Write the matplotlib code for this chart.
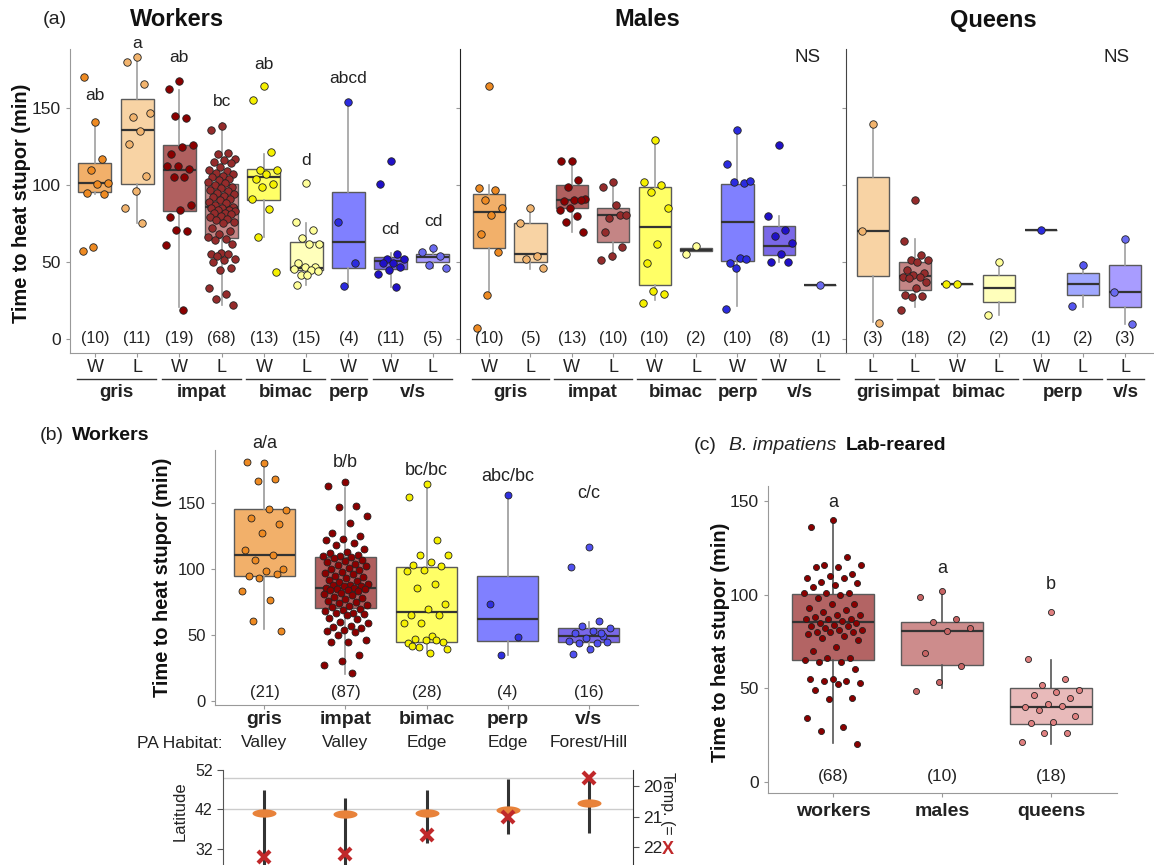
import numpy as np
import matplotlib.pyplot as plt
from matplotlib.path import Path
from matplotlib.transforms import blended_transform_factory as blend

plt.rcParams['font.family'] = ['Liberation Sans', 'DejaVu Sans']

W, H = 1154, 865

# ---------------- (a) field-collected, by caste ----------------
workers_sp = ['gris', 'gris', 'impat', 'impat', 'bimac', 'bimac', 'perp', 'v/s', 'v/s']
workers_hab = ['W', 'L', 'W', 'L', 'W', 'L', 'W', 'W', 'L']
workers_n = [10, 11, 19, 68, 13, 15, 4, 11, 5]
workers_letters = ['ab', 'a', 'ab', 'bc', 'ab', 'd', 'abcd', 'cd', 'cd']
# lower whisker, q1, median, q3, upper whisker
workers_box = [(94, 95.5, 101, 114, 140), (75, 100.6, 135.7, 155.8, 182.5),
               (21, 83, 110, 125.8, 162), (22, 65.4, 85.7, 100.6, 140),
               (66, 90, 105.4, 110.4, 120.3), (35.3, 45, 46, 63, 75.3),
               (34, 46.1, 63, 95.5, 154), (34, 45.5, 50.4, 53, 55.8),
               (46, 50.2, 53.5, 55.4, 60)]
workers_pts = [
    [141, 170, 117, 110, 101, 100.6, 95, 94, 60, 57],
    [183, 180, 165.6, 144, 147, 135, 126.6, 105.8, 96, 85, 75.5],
    [167.7, 162.3, 143.5, 144.6, 125.8, 124.9, 120, 110.4, 112.6, 112.6, 105, 105,
     87, 84, 79.2, 70, 71, 61.3, 19],
    [138, 136, 121, 120, 117, 116, 115, 114, 112, 110, 109, 108, 107, 106, 105, 104,
     103, 102, 101, 100, 99, 98, 97, 96, 95, 94, 93, 92, 91, 90, 89, 88, 87, 86, 85,
     85, 84, 84, 83, 82, 82, 81, 80, 79, 78, 77, 76, 75, 72, 70, 68, 66, 65, 64, 62,
     56, 55, 55, 54, 52, 51, 50, 46, 45, 33, 29, 26, 22],
    [164, 155, 121.6, 109.7, 109.5, 107.4, 104, 100.6, 98.5, 91, 84.6, 66, 43.7],
    [101, 75.8, 71, 65.8, 61.7, 61.7, 49.6, 46.5, 46.5, 45.5, 45, 41.6, 43.9, 41.6, 35.3],
    [154, 75.8, 49.6, 34.2],
    [115.8, 100.6, 55.4, 52.2, 52, 49.4, 49.4, 46.5, 44.6, 42.4, 33.8],
    [58.9, 56.7, 54, 48.3, 46.1],
]

males_sp = ['gris', 'gris', 'impat', 'impat', 'bimac', 'bimac', 'perp', 'v/s', 'v/s']
males_hab = ['W', 'L', 'W', 'L', 'W', 'L', 'W', 'W', 'L']
males_n = [10, 5, 13, 10, 10, 2, 10, 8, 1]
males_box = [(28.8, 59.1, 82.7, 94.2, 100.2), (45.5, 50, 55.4, 75.3, 85),
             (69.5, 85, 90.3, 100.2, 115.4), (51.5, 62.8, 80.3, 85, 102),
             (25.5, 35.3, 72.7, 98.7, 129.9), (56.9, 56.9, 58, 59, 59),
             (21.2, 50.9, 75.8, 100.6, 135.3), (50, 54.3, 60.6, 73.2, 79.7),
             (35.3, 35.3, 35.3, 35.3, 35.3)]
males_pts = [
    [164.5, 98, 96.5, 90, 85, 80.7, 68.2, 56.5, 28.8, 7.1],
    [85, 75.3, 53.7, 52.2, 46.1],
    [115.4, 115.4, 103.5, 98.5, 91, 90, 89.8, 90, 85, 83.5, 80, 75.8, 69.5],
    [102, 98.5, 80.7, 78.6, 80.7, 87.2, 69.3, 59.7, 54.1, 51.3],
    [129.4, 101.7, 99.8, 95.5, 85, 61.9, 49.4, 29.4, 31, 23.6],
    [60.6, 55.2],
    [136, 113.6, 101.3, 101.7, 102.4, 52.6, 49.4, 52, 45.9, 19.7],
    [126.2, 79.7, 71, 66.7, 62.5, 55.2, 50, 50],
    [35.3],
]

queens_sp = ['gris', 'impat', 'bimac', 'bimac', 'perp', 'perp', 'v/s']
queens_hab = ['L', 'L', 'W', 'L', 'W', 'L', 'L']
queens_n = [3, 18, 2, 2, 1, 2, 3]
queens_box = [(10.8, 40.7, 70.3, 105.2, 139.8), (20.8, 31.6, 40.7, 50, 65),
              (35.9, 35.9, 35.9, 35.9, 35.9), (15.6, 24.2, 33.3, 41.6, 50.4),
              (71, 71, 71, 71, 71), (20.8, 28.4, 35.7, 42.9, 49.8),
              (10, 20.8, 30.3, 47.8, 65)]
queens_pts = [
    [139.8, 70, 10.4],
    [90, 63.4, 54.8, 51.5, 51.5, 50, 45, 43, 41.8, 40.3, 40.3, 39.6, 36.8, 33,
     28.8, 27.7, 27, 19],
    [35.9, 35.9],
    [50, 15.4],
    [71],
    [48.3, 21.2],
    [65, 30.3, 10],
]

# ---------------- (b) workers pooled ----------------
b_species = ['gris', 'impat', 'bimac', 'perp', 'v/s']
b_habitat = ['Valley', 'Valley', 'Edge', 'Edge', 'Forest/Hill']
b_n = [21, 87, 28, 4, 16]
b_letters = ['a/a', 'b/b', 'bc/bc', 'abc/bc', 'c/c']
b_box = [(54.6, 95.1, 110.3, 145.4, 180.9), (20.5, 70.8, 86, 108.8, 161.4),
         (36.2, 44.5, 67.3, 101.2, 164.7), (34.9, 45.8, 62, 95.1, 154.6),
         (36.7, 44.8, 49.6, 55.1, 59.7)]
b_pts = [
    [180, 181, 168.5, 166.7, 145, 145.7, 138.4, 134, 127, 114.8, 111, 107, 100.2,
     98.7, 95, 95.9, 93.6, 83.2, 76.7, 60.7, 53.1],
    [166, 163, 148, 147, 140, 135, 127, 125, 123, 122, 120, 118, 115, 113, 112, 111,
     110, 110, 109, 108, 107, 106, 105, 104, 103, 102, 101, 100, 99, 98, 97, 96, 95,
     94, 93, 92, 91, 90, 89, 88, 88, 87, 87, 86, 86, 85, 85, 84, 84, 83, 82, 81, 80,
     79, 78, 77, 76, 75, 74, 73, 72, 71, 70, 69, 68, 67, 67, 66, 65, 63, 62, 60, 59,
     57, 56, 55, 54, 53, 52, 50, 46, 45, 45, 35, 30, 27, 21],
    [164.2, 154.8, 121.7, 111, 110.5, 105, 103.2, 102, 99, 98.2, 88.5, 86, 73.9,
     69.8, 65, 65.5, 59, 59.4, 49.3, 47, 45, 46.3, 44.3, 46.3, 40.7, 39.7, 36.2, 42],
    [156, 73.6, 48.3, 34.9],
    [116.4, 101.4, 61, 56.9, 55.1, 53.1, 51.9, 49.3, 47.6, 45.8, 44.3, 43.8, 45,
     39.2, 35.4, 51.4],
]
lat_mean = [41.2, 40.8, 41.0, 41.8, 43.7]
lat_max = [46.9, 45.0, 46.8, 49.6, 49.6]
lat_min = [26.0, 26.0, 33.4, 35.8, 36.0]
temp_mean = [22.3, 22.22, 21.6, 21.0, 19.76]

# ---------------- (c) lab-reared B. impatiens ----------------
c_castes = ['workers', 'males', 'queens']
c_n = [68, 10, 18]
c_letters = ['a', 'a', 'b']
c_box = [(20.5, 65.2, 85.2, 100.3, 140.4), (50.3, 62.6, 80.4, 85.2, 100.4),
         (20.2, 31, 40.1, 50.1, 65.3)]
c_pts = [
    [140, 136, 120, 116, 116, 115, 115, 111, 110, 109, 109, 107, 106, 105, 104, 101,
     101, 101, 100, 98, 95, 95, 93, 92, 91, 89, 89, 88, 87, 87, 87, 86, 85, 85, 84,
     83, 83, 82, 81, 81, 80, 80, 80, 79, 78, 77, 76, 72, 70, 66, 66, 65, 64, 64, 60,
     55, 55, 54, 54, 53, 52, 49, 45, 44, 34, 29, 27, 20],
    [101.8, 98.8, 87, 85.2, 82, 80.6, 69, 61.9, 53.1, 48.7],
    [91, 65.5, 54.8, 51.7, 49, 48.2, 46.2, 44.6, 41.6, 40, 40.7, 38.5, 35.1, 31.9,
     31.6, 25.9, 25.9, 21],
]

# colours per species / habitat
box_col = {('gris', 'W'): '#F2B06A', ('gris', 'L'): '#F8D3A4',
           ('impat', 'W'): '#B0605F', ('impat', 'L'): '#C48585',
           ('bimac', 'W'): '#FFFF66', ('bimac', 'L'): '#FFFFBB',
           ('perp', 'W'): '#8080FF', ('perp', 'L'): '#A0A8FF',
           ('v/s', 'W'): '#7A68E8', ('v/s', 'L'): '#A89CFF'}
pt_col = {('gris', 'W'): '#EE8A22', ('gris', 'L'): '#F2B46E',
          ('impat', 'W'): '#8B0000', ('impat', 'L'): '#952B2B',
          ('bimac', 'W'): '#F5F000', ('bimac', 'L'): '#FFFF99',
          ('perp', 'W'): '#2B2BE0', ('perp', 'L'): '#5555F0',
          ('v/s', 'W'): '#2010C8', ('v/s', 'L'): '#6A6AF0'}
c_box_col = ['#B36464', '#CD8C8C', '#E8BABA']
c_pt_col = ['#8B0000', '#C86464', '#E08080']

TXT = '#222222'
GREY = '#999999'


def jitter(n, spread):
    if n == 1:
        return np.zeros(1)
    k = np.arange(n)
    return ((k * 0.618034 + 0.5) % 1.0 - 0.5) * 2 * spread


def draw_boxes(ax, stats, box_colors, pts, pts_colors, width, spread, s, whisk):
    bs = [dict(whislo=v[0], q1=v[1], med=v[2], q3=v[3], whishi=v[4]) for v in stats]
    pos = np.arange(len(stats))
    res = ax.bxp(bs, positions=pos, widths=width, patch_artist=True,
                 showfliers=False, showcaps=False, manage_ticks=False,
                 boxprops=dict(edgecolor='#5a5a5a', linewidth=1),
                 medianprops=dict(color='#333333', linewidth=1.6),
                 whiskerprops=dict(color=whisk, linewidth=1.2))
    for patch, c in zip(res['boxes'], box_colors):
        patch.set_facecolor(c)
    for x, vals, c in zip(pos, pts, pts_colors):
        ax.scatter(x + jitter(len(vals), spread), vals, s=s, color=c,
                   edgecolor='#222222', linewidth=0.6, zorder=3)


def fig_ax(l, t, r, b):
    return fig.add_axes([l / W, 1 - b / H, (r - l) / W, (b - t) / H])


def style(ax, left_col=GREY):
    for sp in ['top', 'right']:
        ax.spines[sp].set_visible(False)
    ax.spines['left'].set_color(left_col)
    ax.spines['bottom'].set_color(GREY)
    ax.tick_params(colors=GREY, labelcolor=TXT, length=3)


fig = plt.figure(figsize=(W / 100, H / 100), dpi=100)

# ---------- panel (a) ----------
a_panels = [
    (fig_ax(70, 49, 460, 352.7), (-0.59, 8.64), workers_sp, workers_hab, workers_n,
     workers_box, workers_pts, GREY),
    (fig_ax(460, 49, 846, 352.7), (-0.70, 8.62), males_sp, males_hab, males_n,
     males_box, males_pts, '#222222'),
    (fig_ax(846, 49, 1154, 352.7), (-0.64, 6.69), queens_sp, queens_hab, queens_n,
     queens_box, queens_pts, '#444444'),
]
for i, (ax, xl, sp, hab, n, box, pts, lcol) in enumerate(a_panels):
    keys = list(zip(sp, hab))
    draw_boxes(ax, box, [box_col[k] for k in keys], pts, [pt_col[k] for k in keys],
               0.78, 0.33, 29, '#a0a0a0')
    style(ax, lcol)
    ax.set_xlim(*xl)
    ax.set_ylim(-8.9, 188.3)
    ax.set_xticks(np.arange(len(sp)))
    ax.set_xticklabels([])
    ax.set_yticks([0, 50, 100, 150])
    if i == 0:
        ax.tick_params(axis='y', labelsize=12.5)
    else:
        ax.set_yticklabels([])
    tr = blend(ax.transData, ax.transAxes)
    for x, nn, h in zip(range(len(sp)), n, hab):
        ax.text(x, 0, f'({nn})', ha='center', va='center', fontsize=11.5, color=TXT)
        ax.text(x, -0.05, h, ha='center', va='center', fontsize=13, color=TXT,
                transform=tr)
    # species underline and label
    start = 0
    for j in range(1, len(sp) + 1):
        if j == len(sp) or sp[j] != sp[start]:
            x0, x1 = start - 0.42, j - 1 + 0.45
            ax.plot([x0, x1], [-0.087, -0.087], color='#333333', lw=1,
                    transform=tr, clip_on=False)
            ax.text((x0 + x1) / 2, -0.13, sp[start], ha='center', va='center',
                    fontsize=13.5, fontweight='bold', color=TXT, transform=tr)
            start = j

axw = a_panels[0][0]
letter_y = [158, 192, 183, 154, 178, 116, 169, 71.4, 76]
for x, (lt, y) in enumerate(zip(workers_letters, letter_y)):
    axw.text(x, y, lt, ha='center', va='center', fontsize=12.5, color=TXT)
a_panels[1][0].text(7.7, 182.5, 'NS', ha='center', va='center', fontsize=13.5, color=TXT)
a_panels[2][0].text(5.81, 182.5, 'NS', ha='center', va='center', fontsize=13.5, color=TXT)

fig.text(55 / W, 1 - 19 / H, '(a)', ha='center', va='center', fontsize=14, color=TXT)
for name, xc in [('Workers', 177), ('Males', 647), ('Queens', 993)]:
    fig.text(xc / W, 1 - 20 / H, name, ha='center', va='center', fontsize=17,
             fontweight='bold', color='#111111')
ylab = 'Time to heat stupor (min)'
fig.text(22 / W, 1 - 203 / H, ylab, rotation=90, ha='center', va='center',
         fontsize=14.4, fontweight='bold', color='#111111')

# ---------- panel (b) ----------
axb = fig_ax(215, 450, 638, 705)
draw_boxes(axb, b_box, [box_col[(s_, 'W')] for s_ in b_species], b_pts,
           ['#EE8A22', '#8B0000', '#F5F000', '#3030E0', '#5050F0'],
           0.75, 0.28, 25, '#9a9a9a')
style(axb)
axb.set_xlim(-0.611, 4.611)
axb.set_ylim(-3.0, 190.2)
axb.set_yticks([0, 50, 100, 150])
axb.tick_params(axis='y', labelsize=12)
axb.set_xticks(range(5))
axb.set_xticklabels([])
trb = blend(axb.transData, axb.transAxes)
b_letter_y = [195.5, 180.4, 175, 170, 157.6]
for x in range(5):
    axb.text(x, 6.3, f'({b_n[x]})', ha='center', va='center', fontsize=12, color=TXT)
    axb.text(x, b_letter_y[x], b_letters[x], ha='center', va='center', fontsize=13,
             color=TXT)
    axb.text(x, -0.055, b_species[x], ha='center', va='center', fontsize=14,
             fontweight='bold', color=TXT, transform=trb)
    axb.text(x, -0.149, b_habitat[x], ha='center', va='center', fontsize=12.5,
             color=TXT, transform=trb)
fig.text(180 / W, 1 - 743 / H, 'PA Habitat:', ha='center', va='center',
         fontsize=12.5, color=TXT)
fig.text(40 / W, 1 - 435 / H, '(b)', ha='left', va='center', fontsize=14, color=TXT)
fig.text(72 / W, 1 - 435 / H, 'Workers', ha='left', va='center', fontsize=14,
         fontweight='bold', color='#111111')
fig.text(163 / W, 1 - 577 / H, ylab, rotation=90, ha='center', va='center',
         fontsize=14.4, fontweight='bold', color='#111111')

# ---------- latitude / temperature inset ----------
axi = fig_ax(223, 770, 633, 865)
axt = axi.twinx()
for a_ in (axi, axt):
    for sp_ in ['top', 'bottom']:
        a_.spines[sp_].set_visible(False)
    a_.set_xticks([])
axi.spines['right'].set_visible(False)
axt.spines['left'].set_visible(False)
axi.spines['left'].set_color('#555555')
axt.spines['right'].set_color('#333333')
axi.set_xlim(-0.512, 4.549)
axi.set_ylim(27.9, 52)
axt.set_ylim(22.57, 19.49)
axi.set_yticks([32, 42, 52])
axt.set_yticks([20, 21, 22])
axi.tick_params(axis='y', labelsize=11.5, colors='#555555', labelcolor=TXT, length=4)
axt.tick_params(axis='y', labelsize=12.5, colors='#555555', labelcolor=TXT, length=4)
for g in (50, 42):
    axi.axhline(g, color='#cccccc', lw=1, zorder=0)
xs = np.arange(5)
axi.vlines(xs, lat_min, lat_max, color='#333333', lw=2.2, zorder=2)
ell = Path([(2.9 * np.cos(t), np.sin(t)) for t in np.linspace(0, 2 * np.pi, 40)],
           closed=True)
axi.plot(xs, lat_mean, ls='none', marker=ell, ms=17.3, color='#E8823A', mew=0,
         zorder=3)
axt.plot(xs, temp_mean, ls='none', marker='x', ms=8.5, mew=3, color='#C0282A',
         clip_on=False)
fig.text(180 / W, 1 - 811 / H, 'Latitude', rotation=90, ha='center', va='center',
         fontsize=12, color=TXT)
fig.text(668 / W, 1 - 772 / H, 'Temp. (=', rotation=270, ha='center', va='top',
         fontsize=11.5, color=TXT)
fig.text(668 / W, 1 - 849 / H, 'X', ha='center', va='center', fontsize=13,
         fontweight='bold', color='#C0282A')

# ---------- panel (c) ----------
axc = fig_ax(767.7, 486, 1116.7, 793.3)
draw_boxes(axc, c_box, c_box_col, c_pts, c_pt_col, 0.75, 0.27, 19, '#555555')
style(axc)
axc.set_xlim(-0.599, 2.603)
axc.set_ylim(-6.2, 158.1)
axc.set_yticks([0, 50, 100, 150])
axc.tick_params(axis='y', labelsize=12.5)
axc.set_xticks(range(3))
axc.set_xticklabels(c_castes, fontsize=14, fontweight='bold', color=TXT)
axc.tick_params(axis='x', pad=4)
c_letter_y = [149.2, 113.8, 105.2]
for x in range(3):
    axc.text(x, 3, f'({c_n[x]})', ha='center', va='center', fontsize=12.5, color=TXT)
    axc.text(x, c_letter_y[x], c_letters[x], ha='center', va='center', fontsize=13,
             color=TXT)
fig.text(694 / W, 1 - 445 / H, '(c)', ha='left', va='center', fontsize=14, color=TXT)
fig.text(729 / W, 1 - 445 / H, 'B. impatiens', ha='left', va='center', fontsize=14,
         style='italic', color=TXT)
fig.text(846 / W, 1 - 445 / H, 'Lab-reared', ha='left', va='center', fontsize=14,
         fontweight='bold', color='#111111')
fig.text(720 / W, 1 - 642 / H, ylab, rotation=90, ha='center', va='center',
         fontsize=14.4, fontweight='bold', color='#111111')

fig.savefig('out.png', dpi=100, facecolor='white')
